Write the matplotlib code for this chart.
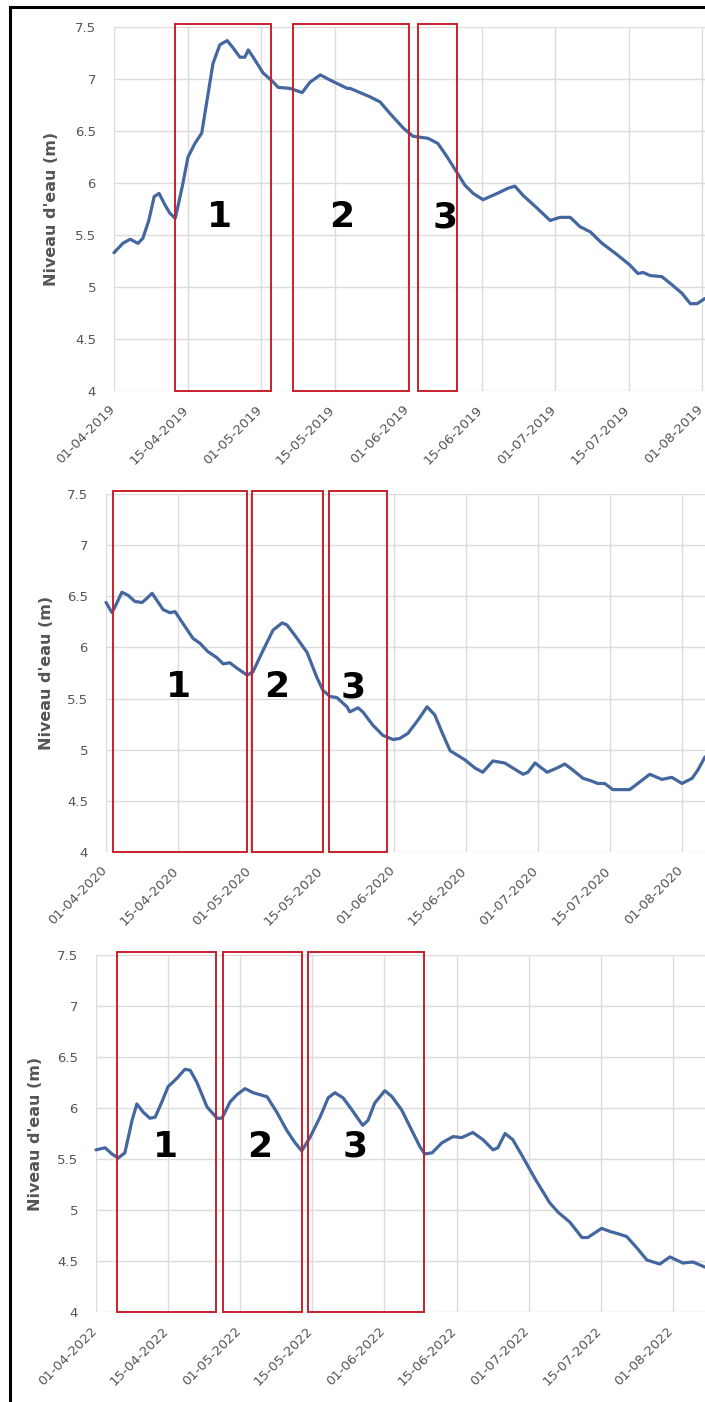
import matplotlib
matplotlib.use("Agg")
import matplotlib.pyplot as plt
import matplotlib.transforms as mtransforms
from matplotlib.patches import Rectangle
from matplotlib.lines import Line2D

plt.rcParams['font.family'] = ['DejaVu Sans']

# --- data (x = position along the date axis, 15 units between labels) ---
ticks_2019 = ["01-04-2019", "15-04-2019", "01-05-2019", "15-05-2019", "01-06-2019",
              "15-06-2019", "01-07-2019", "15-07-2019", "01-08-2019"]
x_2019 = [0, 1.8, 3.3, 4.9, 5.9, 7.1, 8.2, 9.2, 10.4, 11.4, 12.5, 13.9, 15.1, 16.5, 17.9,
          19.0, 20.2, 21.6, 23.1, 24.3, 25.7, 26.7, 27.4, 28.4, 30.4, 32.3, 33.5, 35.9,
          38.4, 40.0, 42.1, 44.1, 47.6, 48.2, 50.2, 52.2, 54.3, 56.3, 59.0, 61.0, 64.1,
          66.1, 68.0, 70.0, 71.6, 73.3, 75.3, 78.2, 80.4, 81.8, 83.5, 86.3, 89.0, 91.0,
          93.1, 95.1, 97.2, 99.6, 102.7, 105.3, 106.9, 108.0, 109.4, 111.8, 113.9, 115.9,
          117.6, 119.0, 120.6]
y_2019 = [5.33, 5.42, 5.46, 5.42, 5.47, 5.64, 5.87, 5.90, 5.79, 5.71, 5.66, 5.96, 6.25,
          6.38, 6.48, 6.80, 7.15, 7.33, 7.37, 7.30, 7.21, 7.21, 7.28, 7.21, 7.06, 6.98,
          6.92, 6.91, 6.87, 6.97, 7.04, 6.99, 6.91, 6.91, 6.87, 6.83, 6.78, 6.67, 6.53,
          6.45, 6.43, 6.38, 6.25, 6.10, 5.98, 5.90, 5.84, 5.90, 5.95, 5.97, 5.88, 5.76,
          5.64, 5.67, 5.67, 5.58, 5.53, 5.42, 5.31, 5.21, 5.13, 5.14, 5.11, 5.10, 5.02,
          4.94, 4.84, 4.84, 4.89]
boxes_2019 = [(12.45, 32.0), (36.5, 60.2), (62.0, 70.0)]
labels_2019 = [(21.6, 5.67), (46.5, 5.67), (67.6, 5.67)]

ticks_2020 = ["01-04-2020", "15-04-2020", "01-05-2020", "15-05-2020", "01-06-2020",
              "15-06-2020", "01-07-2020", "15-07-2020", "01-08-2020"]
x_2020 = [0, 1.25, 2.3, 3.3, 4.6, 6.0, 7.5, 8.5, 9.6, 10.6, 11.9, 13.3, 14.4, 15.8, 18.1,
          19.6, 21.2, 23.1, 24.4, 25.8, 27.5, 29.4, 30.6, 32.7, 34.8, 36.7, 37.7, 39.8,
          41.9, 43.9, 45.2, 46.7, 48.1, 50.2, 50.8, 52.5, 53.5, 55.6, 57.7, 59.8, 61.2,
          62.9, 65.0, 66.9, 68.5, 70.0, 71.7, 73.1, 74.8, 76.9, 78.5, 80.6, 83.1, 84.8,
          86.9, 87.9, 89.4, 91.9, 93.9, 95.6, 97.3, 99.4, 100.8, 102.5, 103.9, 105.6,
          109.1, 110.8, 113.3, 115.8, 117.9, 120.0, 122.1, 123.3, 124.8]
y_2020 = [6.44, 6.34, 6.44, 6.54, 6.51, 6.45, 6.44, 6.48, 6.53, 6.46, 6.37, 6.34, 6.35,
          6.25, 6.09, 6.04, 5.96, 5.90, 5.84, 5.85, 5.79, 5.73, 5.76, 5.97, 6.17, 6.24,
          6.22, 6.09, 5.95, 5.71, 5.58, 5.52, 5.51, 5.42, 5.37, 5.41, 5.37, 5.24, 5.14,
          5.10, 5.11, 5.16, 5.29, 5.42, 5.34, 5.17, 4.99, 4.95, 4.90, 4.82, 4.78, 4.89,
          4.87, 4.82, 4.76, 4.78, 4.87, 4.78, 4.82, 4.86, 4.80, 4.72, 4.70, 4.67, 4.67,
          4.61, 4.61, 4.67, 4.76, 4.71, 4.73, 4.67, 4.72, 4.80, 4.93]
boxes_2020 = [(1.46, 29.4), (30.4, 45.2), (46.5, 58.5)]
labels_2020 = [(15.0, 5.61), (35.6, 5.61), (51.4, 5.61)]

ticks_2022 = ["01-04-2022", "15-04-2022", "01-05-2022", "15-05-2022", "01-06-2022",
              "15-06-2022", "01-07-2022", "15-07-2022", "01-08-2022"]
x_2022 = [0, 1.9, 3.3, 4.6, 6.0, 7.5, 8.5, 9.8, 11.2, 12.3, 13.7, 15.0, 16.8, 18.5, 19.6,
          21.0, 23.1, 25.2, 26.2, 27.9, 29.3, 31.0, 32.7, 35.6, 37.6, 39.7, 41.4, 42.8,
          44.5, 46.6, 48.3, 49.7, 51.4, 52.8, 55.5, 56.6, 58.0, 60.1, 61.6, 63.6, 65.7,
          67.4, 68.4, 69.9, 72.0, 74.3, 76.1, 78.4, 80.5, 82.6, 83.6, 85.1, 86.7, 88.8,
          91.3, 94.4, 96.1, 98.6, 101.1, 102.3, 105.2, 106.9, 108.4, 110.4, 112.5, 114.6,
          117.3, 119.4, 122.1, 124.2, 126.7]
y_2022 = [5.59, 5.61, 5.55, 5.51, 5.56, 5.88, 6.04, 5.96, 5.90, 5.91, 6.06, 6.21, 6.29,
          6.38, 6.37, 6.25, 6.01, 5.90, 5.90, 6.06, 6.13, 6.19, 6.15, 6.11, 5.96, 5.78,
          5.66, 5.58, 5.71, 5.91, 6.10, 6.15, 6.10, 6.01, 5.83, 5.88, 6.05, 6.17, 6.11,
          5.98, 5.78, 5.62, 5.55, 5.56, 5.66, 5.72, 5.71, 5.76, 5.69, 5.59, 5.61, 5.75,
          5.69, 5.52, 5.31, 5.07, 4.98, 4.88, 4.73, 4.73, 4.82, 4.79, 4.77, 4.74, 4.63,
          4.51, 4.47, 4.54, 4.48, 4.49, 4.44]
boxes_2022 = [(4.4, 24.9), (26.4, 42.8), (44.1, 68.2)]
labels_2022 = [(14.4, 5.62), (34.1, 5.62), (53.9, 5.62)]

yticks = [4, 4.5, 5, 5.5, 6, 6.5, 7, 7.5]
ytick_labels = ["4", "4.5", "5", "5.5", "6", "6.5", "7", "7.5"]

panels = [
    # (axes rect in figure fraction, x, y, ticks, boxes, labels, right xlim, ylabel x)
    ([0.1617, 0.7211, 0.8383, 0.2596], x_2019, y_2019, ticks_2019, boxes_2019, labels_2019, 120.6, -0.105),
    ([0.1504, 0.3923, 0.8496, 0.2553], x_2020, y_2020, ticks_2020, boxes_2020, labels_2020, 124.8, -0.099),
    ([0.1362, 0.0642, 0.8638, 0.2546], x_2022, y_2022, ticks_2022, boxes_2022, labels_2022, 126.7, -0.100),
]

fig = plt.figure(figsize=(7.05, 14.02), dpi=100)
grey = "#555555"
# rotated date labels sit just under each tick, nudged a bit left
offset = mtransforms.ScaledTranslation(-6 / 100, -12 / 100, fig.dpi_scale_trans)

for rect, xs, ys, tl, boxes, labels, xmax, ylx in panels:
    ax = fig.add_axes(rect)
    ax.set_xlim(0, xmax)
    ax.set_ylim(4, 7.5)
    xt = [15 * i for i in range(len(tl))]
    ax.set_xticks(xt)
    ax.set_xticklabels([])
    for xv, lab in zip(xt, tl):
        ax.text(xv, 0, lab, transform=ax.get_xaxis_transform() + offset, rotation=45,
                ha="right", va="top", rotation_mode="anchor", fontsize=9.5, color=grey)
    ax.set_yticks(yticks)
    ax.set_yticklabels(ytick_labels, fontsize=9.5, color=grey)
    ax.tick_params(length=0, axis="y", pad=13)
    ax.tick_params(length=0, axis="x")
    ax.grid(True, color="#dcdcdc", lw=1)
    ax.set_axisbelow(True)
    for s in ax.spines.values():
        s.set_visible(False)
    ax.plot(xs, ys, color="#44679f", lw=2.3, clip_on=False, zorder=3, solid_capstyle="round")
    for x0, x1 in boxes:
        ax.add_patch(Rectangle((x0, 4.0), x1 - x0, 3.53, fill=False, edgecolor="#c8202c",
                               lw=1.4, clip_on=False, zorder=4))
    for i, (lx, ly) in enumerate(labels):
        ax.text(lx, ly, str(i + 1), fontsize=26, fontweight="bold", color="black",
                ha="center", va="center", zorder=5)
    ax.set_ylabel("Niveau d'eau (m)", fontsize=11.5, fontweight="bold", color=grey, va="center")
    ax.yaxis.set_label_coords(ylx, 0.5)

# black frame on top and left edges
fig.add_artist(Line2D([10 / 705, 10 / 705], [0, 1 - 7 / 1402], color="black", lw=2.2,
                      transform=fig.transFigure))
fig.add_artist(Line2D([10 / 705, 1], [1 - 7 / 1402, 1 - 7 / 1402], color="black", lw=2.2,
                      transform=fig.transFigure))

fig.savefig("out.png", dpi=100)
